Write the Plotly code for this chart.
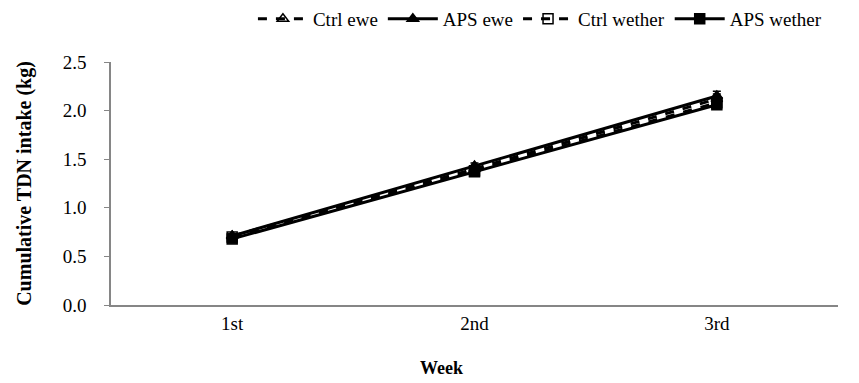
import plotly.graph_objects as go

weeks = ["1st", "2nd", "3rd"]
ctrl_ewe = [0.71, 1.40, 2.12]
aps_ewe = [0.71, 1.43, 2.15]
ctrl_wether = [0.70, 1.38, 2.08]
aps_wether = [0.68, 1.37, 2.06]
err_ctrl_ewe = [0.02, 0.03, 0.05]
err_aps_ewe = [0.02, 0.03, 0.05]
err_ctrl_wether = [0.02, 0.03, 0.04]
err_aps_wether = [0.02, 0.03, 0.04]

series = [
    ("Ctrl ewe", ctrl_ewe, err_ctrl_ewe, "dash", "triangle-up-open"),
    ("APS ewe", aps_ewe, err_aps_ewe, "solid", "triangle-up"),
    ("Ctrl wether", ctrl_wether, err_ctrl_wether, "dash", "square-open"),
    ("APS wether", aps_wether, err_aps_wether, "solid", "square"),
]

fig = go.Figure()
for name, vals, err, dash, sym in series:
    fig.add_trace(go.Scatter(
        x=weeks, y=vals, name=name, mode="lines+markers",
        line=dict(color="black", width=3, dash=dash),
        marker=dict(symbol=sym, size=10, color="black",
                    line=dict(color="black", width=1.5)),
        error_y=dict(type="data", array=err, color="black", thickness=1.5, width=4),
    ))

font = "Liberation Serif, Times New Roman, serif"
fs = 19
fig.update_layout(
    width=859, height=383,
    margin=dict(l=111, r=21, t=62, b=78, autoexpand=False),
    paper_bgcolor="white", plot_bgcolor="white",
    font=dict(family=font, size=fs, color="black"),
    showlegend=True,
    legend=dict(orientation="h", x=0.59, xanchor="center", y=1.0, yanchor="top",
                yref="container",
                font=dict(family=font, size=fs), itemwidth=50,
                traceorder="normal"),
    xaxis=dict(
        type="category", range=[-0.5, 2.5],
        showline=True, linecolor="#868686", linewidth=1.5,
        ticks="", showgrid=False, zeroline=False,
        tickfont=dict(family=font, size=fs),
    ),
    yaxis=dict(
        range=[0, 2.5], dtick=0.5, tickformat=".1f",
        showline=True, linecolor="#868686", linewidth=1.5,
        ticks="outside", ticklen=5, tickcolor="#868686",
        ticklabelstandoff=14,
        showgrid=False, zeroline=False,
        tickfont=dict(family=font, size=fs),
        title=dict(text="<b>Cumulative TDN intake (kg)</b>", font=dict(family=font, size=20), standoff=26),
    ),
    annotations=[dict(
        text="<b>Week</b>", xref="paper", yref="paper", x=0.455, y=-0.26,
        xanchor="center", yanchor="middle", showarrow=False,
        font=dict(family=font, size=18, color="black"),
    )],
)
fig.write_html("out.html")
